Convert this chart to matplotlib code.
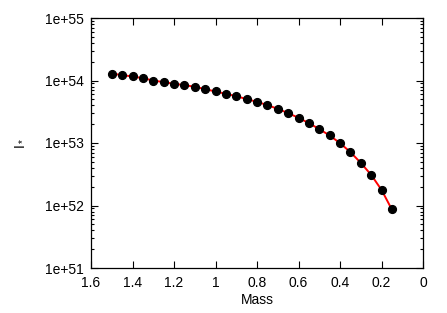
import matplotlib
matplotlib.use("Agg")
import matplotlib.pyplot as plt
from matplotlib.ticker import FixedLocator, LogLocator, NullFormatter

plt.rcParams['font.family'] = ['Liberation Sans', 'DejaVu Sans']

mass = [1.5, 1.45, 1.4, 1.35, 1.3, 1.25, 1.2, 1.15, 1.1, 1.05, 1.0, 0.95, 0.9, 0.85,
        0.8, 0.75, 0.7, 0.65, 0.6, 0.55, 0.5, 0.45, 0.4, 0.35, 0.3, 0.25, 0.2, 0.15]
inertia = [1.29e54, 1.22e54, 1.16e54, 1.09e54, 1.0e54, 9.42e53, 8.86e53, 8.44e53,
           7.93e53, 7.28e53, 6.67e53, 6.12e53, 5.62e53, 5.04e53, 4.56e53, 4.04e53,
           3.52e53, 3.01e53, 2.53e53, 2.08e53, 1.67e53, 1.32e53, 9.96e52, 7.15e52,
           4.82e52, 3.10e52, 1.78e52, 8.63e51]
xticks = [1.6, 1.4, 1.2, 1.0, 0.8, 0.6, 0.4, 0.2, 0.0]
xticklabels = ['1.6', '1.4', '1.2', '1', '0.8', '0.6', '0.4', '0.2', '0']
yticks = [1e51, 1e52, 1e53, 1e54, 1e55]
yticklabels = ['1e+51', '1e+52', '1e+53', '1e+54', '1e+55']

fig = plt.figure(figsize=(4.47, 3.13), dpi=100)
ax = fig.add_axes([91/447, 1-268/313, (423-91)/447, (268-18)/313])

ax.plot(mass, inertia, color='#ff0000', lw=1.4, zorder=2)
ax.plot(mass, inertia, 'o', color='black', ms=5.6, zorder=3)

ax.set_yscale('log')
ax.set_xlim(1.6, 0.0)
ax.set_ylim(1e51, 1e55)
ax.xaxis.set_major_locator(FixedLocator(xticks))
ax.set_xticklabels(xticklabels)
ax.yaxis.set_major_locator(FixedLocator(yticks))
ax.set_yticklabels(yticklabels)
ax.yaxis.set_minor_locator(LogLocator(base=10, subs=range(2, 10)))
ax.yaxis.set_minor_formatter(NullFormatter())

ax.tick_params(which='both', direction='in', top=True, right=True, labelsize=10,
               width=0.8, color='black')
ax.tick_params(which='major', length=5)
ax.tick_params(which='minor', length=2.5)
ax.tick_params(axis='x', pad=6)
ax.tick_params(axis='y', pad=5)
for s in ax.spines.values():
    s.set_linewidth(0.9)

ax.set_xlabel('Mass', fontsize=10, labelpad=2)
ax.set_ylabel(r'$\mathregular{I_*}$', fontsize=10, labelpad=14)

fig.savefig('out.png', dpi=100)
